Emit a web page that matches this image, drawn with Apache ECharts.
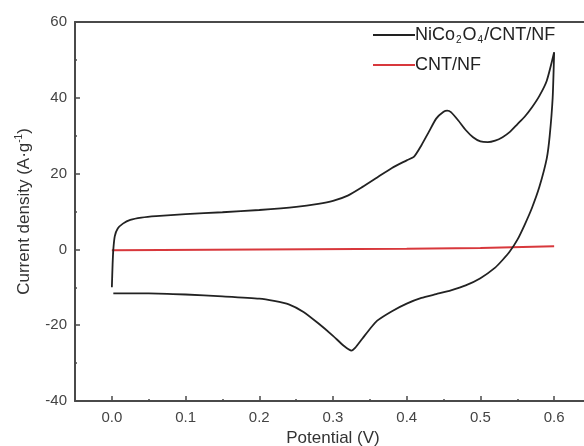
<!DOCTYPE html>
<html>
<head>
<meta charset="utf-8">
<script src="https://cdn.jsdelivr.net/npm/echarts@6/dist/echarts.min.js"></script>
<style>
  html, body { margin: 0; padding: 0; background: #fff; }
  #chart { width: 584px; height: 446px; }
</style>
</head>
<body>
<div id="chart"></div>
<script>
// CV curve of NiCo2O4/CNT/NF (forward scan then reverse scan)
const cvPotential = [
  0.000, 0.001, 0.002, 0.004, 0.008, 0.015, 0.025, 0.04, 0.06, 0.10, 0.15, 0.20, 0.25, 0.28, 0.30,
  0.32, 0.34, 0.36, 0.38, 0.40, 0.41, 0.42, 0.43, 0.44, 0.45, 0.455, 0.46, 0.47, 0.48, 0.49,
  0.50, 0.51, 0.52, 0.53, 0.54, 0.55, 0.56, 0.57, 0.58, 0.59, 0.60,
  0.598, 0.594, 0.59, 0.58, 0.57, 0.56, 0.55, 0.54, 0.53, 0.52, 0.50, 0.48, 0.46, 0.44, 0.42,
  0.40, 0.38, 0.36, 0.35, 0.34, 0.33, 0.325, 0.315, 0.30, 0.28, 0.26, 0.24, 0.22, 0.20, 0.15,
  0.10, 0.05, 0.002
]
const cvCurrent = [
  -10.0, -4.0, 0.0, 3.5, 5.5, 6.8, 7.8, 8.4, 8.8, 9.3, 9.8, 10.4, 11.2, 12.0, 12.8,
  14.2, 16.5, 19.0, 21.5, 23.5, 24.5, 27.5, 31.0, 34.5, 36.3, 36.6, 36.2, 34.0, 31.5, 29.6,
  28.5, 28.3, 28.7, 29.6, 31.0, 33.0, 35.0, 37.5, 40.5, 44.5, 52.0,
  40.0, 30.0, 24.0, 16.5, 11.0, 6.5, 2.5, -0.5, -2.8, -4.8, -7.6, -9.5, -10.8, -11.8, -12.8,
  -14.3, -16.3, -18.8, -21.0, -23.5, -26.0, -26.7, -25.5, -22.8, -19.5, -16.5, -14.5, -13.6, -13.0, -12.4,
  -11.9, -11.6, -11.6
]

// CNT/NF (almost flat)
const cntPotential = [0.0, 0.2, 0.4, 0.5, 0.6]
const cntCurrent = [-0.2, 0.0, 0.2, 0.4, 0.8]

const xMajorTicks = [0.0, 0.1, 0.2, 0.3, 0.4, 0.5, 0.6]
const xMinorTicks = [0.05, 0.15, 0.25, 0.35, 0.45, 0.55]

const seriesNames = ['NiCo2O4/CNT/NF', 'CNT/NF']

const chart = echarts.init(document.getElementById('chart'))

const axisColor = '#4a4a4a'
const font = 'Liberation Sans, Arial, sans-serif'
const labelStyle = { color: '#444', fontSize: 15, fontFamily: font }

chart.setOption({
  animation: false,
  backgroundColor: '#fff',
  grid: { left: 75, top: 22, bottom: 45, right: -7, outerBoundsMode: 'none' },
  legend: {
    left: 373,
    top: 26,
    padding: 0,
    orient: 'vertical',
    icon: 'rect',
    itemWidth: 42,
    itemHeight: 2,
    itemGap: 11,
    data: seriesNames,
    formatter: (name) => {
      if (name === 'NiCo2O4/CNT/NF') return '{a|NiCo}{s|2}{a|O}{s|4}{a|/CNT/NF}'
      return '{a|' + name + '}'
    },
    textStyle: {
      padding: [0, 0, 0, -5],
      rich: {
        a: { fontSize: 18, color: '#222', fontFamily: font },
        s: { fontSize: 10, color: '#222', verticalAlign: 'bottom', padding: [10, 1, 0, 1], fontFamily: font }
      }
    }
  },
  xAxis: [
    {
      type: 'value',
      min: -0.05,
      max: 0.65,
      interval: 0.05,
      name: 'Potential (V)',
      nameLocation: 'middle',
      nameGap: 28,
      nameTextStyle: { color: '#333', fontSize: 17, fontFamily: font },
      axisLine: { show: true, onZero: false, lineStyle: { color: axisColor, width: 2 } },
      axisTick: { show: true, inside: true, length: 5, lineStyle: { color: axisColor, width: 1.5 }, customValues: xMajorTicks },
      axisLabel: { ...labelStyle, margin: 9, customValues: xMajorTicks, formatter: (v) => v.toFixed(1) },
      splitLine: { show: false }
    },
    {
      type: 'value',
      min: -0.05,
      max: 0.65,
      position: 'bottom',
      axisLine: { show: false, onZero: false },
      axisTick: { show: true, inside: true, length: 2, lineStyle: { color: axisColor, width: 1.5 }, customValues: xMinorTicks },
      axisLabel: { show: false },
      splitLine: { show: false }
    },
    {
      type: 'value',
      min: -0.05,
      max: 0.65,
      position: 'top',
      axisLine: { show: true, onZero: false, lineStyle: { color: axisColor, width: 2 } },
      axisTick: { show: false },
      axisLabel: { show: false },
      splitLine: { show: false }
    }
  ],
  yAxis: {
    type: 'value',
    min: -40,
    max: 60,
    interval: 20,
    name: '{a|Current density (A·g}{s|-1}{a|)}',
    nameLocation: 'middle',
    nameGap: 41,
    nameTextStyle: {
      rich: {
        a: { fontSize: 17, color: '#333', fontFamily: font },
        s: { fontSize: 10, color: '#333', verticalAlign: 'top', padding: [0, 0, 10, 0], fontFamily: font }
      }
    },
    axisLine: { show: true, onZero: false, lineStyle: { color: axisColor, width: 2 } },
    axisTick: { show: true, inside: true, length: 5, lineStyle: { color: axisColor, width: 1.5 } },
    minorTick: { show: true, splitNumber: 2, length: 2, lineStyle: { color: axisColor, width: 1.5 } },
    axisLabel: { ...labelStyle, margin: 8 },
    splitLine: { show: false }
  },
  series: [
    {
      name: seriesNames[0],
      type: 'line',
      data: cvPotential.map((v, i) => [v, cvCurrent[i]]),
      symbol: 'none',
      smooth: 0.2,
      lineStyle: { color: '#222', width: 1.8 },
      itemStyle: { color: '#222' }
    },
    {
      name: seriesNames[1],
      type: 'line',
      data: cntPotential.map((v, i) => [v, cntCurrent[i]]),
      symbol: 'none',
      lineStyle: { color: '#d8383c', width: 2 },
      itemStyle: { color: '#d8383c' },
      z: 1
    }
  ]
})
</script>
</body>
</html>
